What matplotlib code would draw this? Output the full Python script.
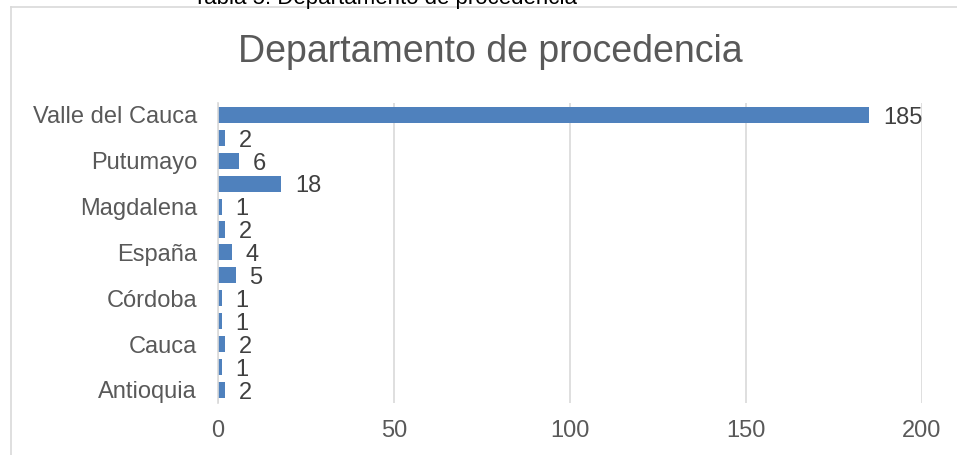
import matplotlib.pyplot as plt
from matplotlib.lines import Line2D

# categories from bottom to top (only every other one shows a label)
categorias = ["Antioquia", "Bogotá", "Cauca", "Chocó", "Córdoba", "Cundinamarca",
              "España", "Huila", "Magdalena", "Nariño", "Putumayo", "Risaralda",
              "Valle del Cauca"]
valores = [2, 1, 2, 1, 1, 5, 4, 2, 1, 18, 6, 2, 185]
xticks = [0, 50, 100, 150, 200]

W, H = 957, 455
plt.rcParams['font.family'] = ['Liberation Sans', 'DejaVu Sans']

fig = plt.figure(figsize=(W / 100, H / 100), dpi=100)
ax = fig.add_axes([218 / W, (H - 403) / H, (922 - 218) / W, 300 / H])

pos = list(range(len(categorias)))
ax.barh(pos, valores, height=0.7, color="#4F81BD", zorder=3)

# value labels just right of each bar
for y, v in zip(pos, valores):
    ax.annotate(str(v), (v, y), xytext=(10, -2), textcoords="offset points",
                va="center", ha="left", fontsize=17, color="#404040")

ax.set_xlim(0, 200)
ax.set_ylim(-0.57, 12.52)
ax.set_xticks(xticks)
ax.set_xticklabels([str(t) for t in xticks])
ax.set_yticks(pos[::2])
ax.set_yticklabels(categorias[::2])
ax.tick_params(axis="both", length=0, labelsize=17, colors="#595959")
ax.tick_params(axis="x", pad=12)
ax.tick_params(axis="y", pad=15)

ax.grid(axis="x", color="#D9D9D9", linewidth=1.2, zorder=0)
for s in ["top", "right", "bottom"]:
    ax.spines[s].set_visible(False)
ax.spines["left"].set_color("#D9D9D9")
ax.spines["left"].set_linewidth(1.2)
ax.spines["left"].set_zorder(4)

fig.text(490 / W, 1 - 52 / H, "Departamento de procedencia", ha="center", va="center",
         fontsize=27, color="#595959")

# caption of the table, cut by the top edge
fig.text(385 / W, 1 - 4 / H, "Tabla 5. Departamento de procedencia", ha="center",
         va="baseline", fontsize=16, color="black")

# chart frame (only left and top edges visible)
fig.add_artist(Line2D([10.5 / W, 10.5 / W], [0, 1 - 7 / H], transform=fig.transFigure,
                      color="#D9D9D9", linewidth=1.2))
fig.add_artist(Line2D([10.5 / W, 1], [1 - 7 / H, 1 - 7 / H], transform=fig.transFigure,
                      color="#D9D9D9", linewidth=1.2))

fig.savefig("out.png", dpi=100, facecolor="white")
